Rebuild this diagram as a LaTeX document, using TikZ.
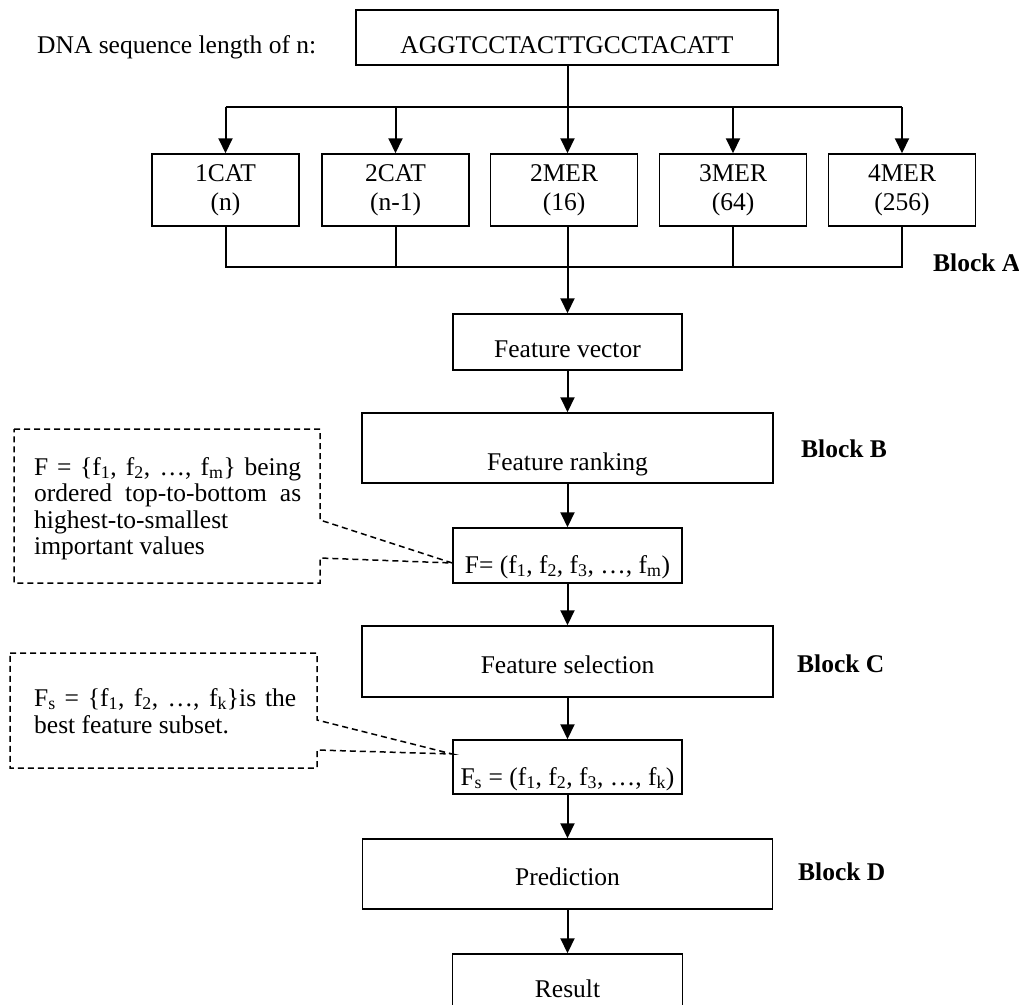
\documentclass[tikz,border=0pt]{standalone}
\usepackage{fontspec}
\setmainfont{Liberation Serif}
\usetikzlibrary{arrows.meta}
\newcommand{\myfs}{\fontsize{25.5pt}{29pt}\selectfont}
\tikzset{
  box/.style={draw, line width=1.5pt, inner xsep=3pt, inner ysep=0pt, font=\myfs},
  mbox/.style={box, align=center, minimum width=147pt, minimum height=72pt},
  conn/.style={line width=2pt},
  arr/.style={line width=2pt, -{Triangle[length=15pt,width=14pt]}},
  callout/.style={draw, line width=1.5pt, dash pattern=on 6pt off 4pt},
  ctext/.style={inner sep=0pt, align=justify, anchor=base west},
  blk/.style={inner sep=0pt, font=\myfs\bfseries, anchor=base west},
}
\begin{document}
\begin{tikzpicture}[x=1pt, y=-1pt]
\fill[white] (0,0) rectangle (1019,1004);
\useasboundingbox (0,0) rectangle (1019,1004);

% top
\node[inner sep=0pt, font=\myfs, anchor=base west] (lab) at (37,53) {DNA sequence length of n:};
\node[box, minimum width=422pt, text height=43pt, text depth=12pt] (dna) at (567,37.5) {AGGTCCTACTTGCCTACATT};

\coordinate (tb) at (567.5,107);
\coordinate (bb) at (567.5,267);

\node[mbox] (m1) at (225.5,190) {1CAT\\(n)};
\node[mbox] (m2) at (395.5,190) {2CAT\\(n-1)};
\node[mbox] (m3) at (564,190) {2MER\\(16)};
\node[mbox] (m4) at (733,190) {3MER\\(64)};
\node[mbox] (m5) at (902,190) {4MER\\(256)};

\draw[conn] (dna.south -| tb) -- (tb);
\draw[conn] (m1.north |- tb) -- (m5.north |- tb);
\draw[arr] (m1.north |- tb) -- (m1.north);
\draw[arr] (m2.north |- tb) -- (m2.north);
\draw[arr] (tb) -- (tb |- m3.north);
\draw[arr] (m4.north |- tb) -- (m4.north);
\draw[arr] (m5.north |- tb) -- (m5.north);

\draw[conn] (m1.south) -- (m1.south |- bb) -- (m5.south |- bb) -- (m5.south);
\draw[conn] (m2.south) -- (m2.south |- bb);
\draw[conn] (m4.south) -- (m4.south |- bb);

\node[blk] (bA) at (933,271.5) {Block A};

% main column
\node[box, minimum width=229pt, text height=43pt, text depth=13pt] (fv) at (567.5,342) {Feature vector};
\node[box, minimum width=411pt, text height=57pt, text depth=13pt] (fr) at (567.5,448) {Feature ranking};
\node[box, minimum width=229pt, text height=45pt, text depth=10pt] (F) at (567.5,555.5) {F= (f\textsubscript{1}, f\textsubscript{2}, f\textsubscript{3}, …, f\textsubscript{m})};
\node[box, minimum width=411pt, text height=47pt, text depth=24pt] (fs) at (567.5,661.5) {Feature selection};
\node[box, minimum width=229pt, text height=45pt, text depth=9pt] (Fs) at (567.5,767) {F\textsubscript{s} = (f\textsubscript{1}, f\textsubscript{2}, f\textsubscript{3}, …, f\textsubscript{k})};
\node[box, minimum width=410pt, text height=46pt, text depth=24pt] (pr) at (567.5,874) {Prediction};
\node[box, minimum width=230pt, text height=43pt, text depth=12pt] (res) at (567.5,981.5) {Result};

\draw[arr] (m3.south -| bb) -- (fv.north);
\draw[arr] (fv) -- (fr);
\draw[arr] (fr) -- (F);
\draw[arr] (F) -- (fs);
\draw[arr] (fs) -- (Fs);
\draw[arr] (Fs) -- (pr);
\draw[arr] (pr) -- (res);

\node[blk] (bB) at (801,457) {Block B};
\node[blk] (bC) at (797,672) {Block C};
\node[blk] (bD) at (798,880) {Block D};

% callouts
\coordinate (p1) at ([yshift=-7.5pt]F.west);
\draw[callout] (14,429) -- (320,429) -- (320,520) -- (p1) -- (320,558) -- (320,583) -- (14,583) -- cycle;
\node[ctext, text width=267pt, font=\fontsize{25.5pt}{26.5pt}\selectfont] (t1) at (34,475)
  {\hyphenpenalty=10000 \exhyphenpenalty=10000 F = \{f\textsubscript{1}, f\textsubscript{2}, …, f\textsubscript{m}\} being\linebreak ordered top-to-bottom as\linebreak highest-to-smallest\\ important values};

\coordinate (p2) at ([yshift=13pt]Fs.west);
\draw[callout] (10,653) -- (317,653) -- (317,720) -- (p2) -- (317,750) -- (317,768) -- (10,768) -- cycle;
\node[ctext, text width=262pt, font=\fontsize{25.5pt}{27pt}\selectfont] (t2) at (34,706)
  {\hyphenpenalty=10000 \exhyphenpenalty=10000 F\textsubscript{s} = \{f\textsubscript{1}, f\textsubscript{2}, …, f\textsubscript{k}\}is the\linebreak best feature subset.};
\end{tikzpicture}
\end{document}
